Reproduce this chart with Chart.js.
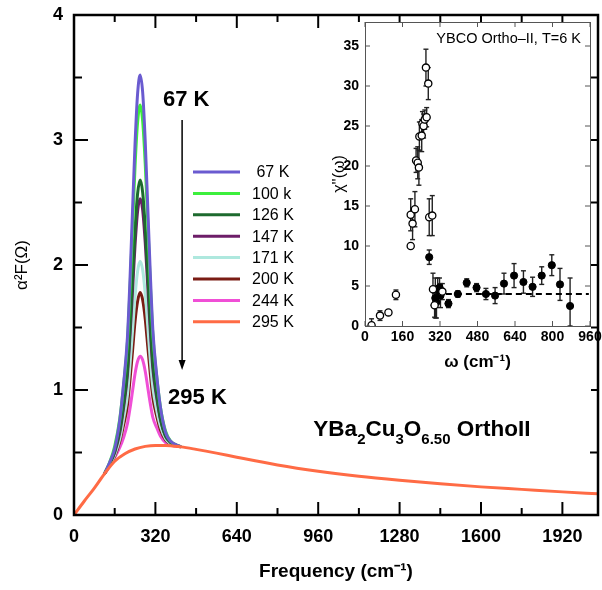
<!DOCTYPE html>
<html><head><meta charset="utf-8">
<script src="https://cdn.jsdelivr.net/npm/chart.js@4.4.1/dist/chart.umd.min.js"></script>
<style>
html,body{margin:0;padding:0;background:#fff;}
#wrap{position:relative;width:602px;height:590px;overflow:hidden;}
#main{position:absolute;left:0;top:0;}
#inset{position:absolute;left:322px;top:0;}
</style></head><body>
<div id="wrap">
<canvas id="main" width="602" height="590"></canvas>
<canvas id="inset" width="280" height="400"></canvas>
</div>
<script>
// ---------- main chart data ----------
const tempLabels = [' 67 K', '100 k', '126 K', '147 K', '171 K', '200 K', '244 K', '295 K'];
const lineColors = ['#6a5bd0', '#3cef3c', '#1d6a2e', '#6d1d68', '#aee8de', '#7a1c14', '#f04fd6', '#ff6b45'];

const peakFreq = [120, 140, 160, 180, 195, 210, 220, 230, 240, 250, 260, 270, 280, 290, 300, 310, 325, 340, 360, 380, 420];
const k67  = [0.33, 0.42, 0.53, 0.76, 1.05, 1.42, 1.88, 2.43, 2.97, 3.37, 3.52, 3.38, 2.99, 2.46, 1.93, 1.48, 1.12, 0.86, 0.66, 0.59, 0.545];
const k100 = [0.33, 0.42, 0.55, 0.77, 1.04, 1.38, 1.80, 2.29, 2.79, 3.14, 3.28, 3.15, 2.81, 2.34, 1.85, 1.44, 1.11, 0.86, 0.67, 0.59, 0.545];
const k126 = [0.33, 0.41, 0.51, 0.68, 0.89, 1.16, 1.49, 1.89, 2.28, 2.57, 2.68, 2.58, 2.30, 1.92, 1.54, 1.22, 0.97, 0.77, 0.63, 0.58, 0.545];
const k147 = [0.33, 0.41, 0.50, 0.66, 0.86, 1.12, 1.43, 1.79, 2.16, 2.43, 2.53, 2.44, 2.18, 1.83, 1.47, 1.17, 0.94, 0.76, 0.63, 0.58, 0.545];
const k171 = [0.33, 0.40, 0.48, 0.61, 0.77, 0.96, 1.20, 1.47, 1.75, 1.95, 2.03, 1.96, 1.77, 1.51, 1.24, 1.02, 0.84, 0.71, 0.61, 0.57, 0.545];
const k200 = [0.33, 0.40, 0.47, 0.59, 0.72, 0.88, 1.08, 1.31, 1.55, 1.71, 1.78, 1.72, 1.57, 1.35, 1.13, 0.94, 0.79, 0.68, 0.60, 0.57, 0.545];
const k244 = [0.33, 0.39, 0.46, 0.54, 0.62, 0.73, 0.85, 0.99, 1.13, 1.23, 1.27, 1.24, 1.15, 1.02, 0.89, 0.78, 0.70, 0.63, 0.58, 0.56, 0.545];

const baseFreq = [0, 40, 80, 120, 160, 200, 240, 280, 320, 360, 420, 480, 560, 640, 800, 960, 1120, 1280, 1440, 1600, 1760, 1920, 2060];
const k295 = [0, 0.11, 0.215, 0.33, 0.43, 0.49, 0.528, 0.549, 0.557, 0.557, 0.545, 0.525, 0.495, 0.462, 0.40, 0.35, 0.31, 0.278, 0.25, 0.225, 0.205, 0.185, 0.17];

const peakSeries = [k67, k100, k126, k147, k171, k200, k244];

// tick values (labels shown on the major ones)
const mainXTicks = [0, 160, 320, 480, 640, 800, 960, 1120, 1280, 1440, 1600, 1760, 1920];
const mainYTicks = [0, 0.5, 1, 1.5, 2, 2.5, 3, 3.5, 4];
const insetXTicks = [0, 160, 320, 480, 640, 800, 960];
const insetYTicks = [0, 5, 10, 15, 20, 25, 30, 35];

// ---------- inset data (YBCO Ortho-II, T=6 K) ----------
const openW   = [28, 64, 100, 132, 195, 195, 203, 213, 218, 225, 230, 232, 242, 245, 250, 255, 263, 260, 270, 274, 287, 290, 297, 330];
const openChi = [0.1, 1.3, 1.7, 3.9, 10.0, 13.9, 12.8, 14.6, 20.7, 20.4, 19.8, 23.7, 23.8, 25.3, 25.0, 25.8, 26.1, 32.3, 30.3, 13.6, 13.8, 4.6, 2.6, 4.3];
const openErr = [0.8, 0.6, 0.3, 0.6, 0, 2.0, 2.0, 2.2, 1.5, 2.0, 2.2, 1.8, 2.0, 1.5, 1.5, 1.2, 1.2, 2.3, 2.0, 2.3, 2.5, 2.0, 1.5, 1.0];
const fullW   = [274, 300, 305, 310, 318, 322, 356, 396, 434, 476, 516, 555, 593, 636, 676, 715, 754, 797, 832, 875];
const fullChi = [8.6, 3.5, 3.0, 4.5, 4.8, 3.8, 2.8, 4.0, 5.4, 4.8, 4.0, 3.8, 5.3, 6.3, 5.5, 4.9, 6.3, 7.6, 5.2, 2.5];
const fullErr = [0.9, 2.5, 2.0, 1.5, 1.2, 1.5, 0.5, 0.4, 0.5, 0.5, 0.7, 1.0, 1.3, 1.5, 1.4, 1.2, 1.1, 1.3, 2.0, 3.5];
const dashW   = [345, 955];
const dashChi = [4.0, 4.0];

// ---------- helpers ----------
const FONT = "'Liberation Sans', Arial, Helvetica, sans-serif";
Chart.defaults.font.family = FONT;
Chart.defaults.color = '#000';
function pts(xs, ys) { return xs.map((x, i) => ({ x: x, y: ys[i] })); }
function seg(ctx, x1, y1, x2, y2) { ctx.beginPath(); ctx.moveTo(x1, y1); ctx.lineTo(x2, y2); ctx.stroke(); }
function setTicks(vals) { return s => { s.ticks = vals.map(v => ({ value: v })); }; }
function noPadX(w) { return s => { s.height = w; s.paddingLeft = 0; s.paddingRight = 0; }; }
function noPadY(w) { return s => { s.width = w; s.paddingTop = 0; s.paddingBottom = 0; }; }

// ---------- main chart ----------
const mainDatasets = peakSeries.map((s, i) => ({
  label: tempLabels[i], data: pts(peakFreq, s), borderColor: lineColors[i],
  borderWidth: 3, pointRadius: 0, fill: false, cubicInterpolationMode: 'monotone', order: 1
}));
mainDatasets.push({
  label: tempLabels[7], data: pts(baseFreq, k295), borderColor: lineColors[7],
  borderWidth: 3, pointRadius: 0, fill: false, cubicInterpolationMode: 'monotone', order: 0
});

const mainDecor = {
  id: 'mainDecor',
  afterDatasetsDraw(chart) {
    const { ctx, chartArea: a, scales: { x, y } } = chart;
    ctx.save();
    ctx.strokeStyle = '#000';
    ctx.lineWidth = 2.5;
    ctx.strokeRect(a.left, a.top, a.right - a.left, a.bottom - a.top);
    ctx.lineWidth = 2;
    x.ticks.forEach(t => {
      const px = x.getPixelForValue(t.value);
      const len = t.value % 320 === 0 ? 13 : 7;
      seg(ctx, px, a.bottom, px, a.bottom - len);
      seg(ctx, px, a.top, px, a.top + len);
    });
    y.ticks.forEach(t => {
      const py = y.getPixelForValue(t.value);
      const len = Number.isInteger(t.value) ? 14 : 8;
      seg(ctx, a.left, py, a.left + len, py);
      seg(ctx, a.right, py, a.right - len, py);
    });

    // legend
    ctx.font = '16px ' + FONT;
    ctx.textBaseline = 'middle';
    ctx.textAlign = 'left';
    chart.data.datasets.forEach((ds, i) => {
      const ly = 172 + i * 21.4;
      ctx.strokeStyle = ds.borderColor;
      ctx.lineWidth = 3;
      seg(ctx, 193, ly, 240, ly);
      ctx.fillStyle = '#000';
      ctx.fillText(ds.label, 252, ly + 1);
    });

    // annotations
    ctx.fillStyle = '#000';
    ctx.font = 'bold 22px ' + FONT;
    ctx.fillText('67 K', x.getPixelForValue(350), y.getPixelForValue(3.32));
    ctx.fillText('295 K', x.getPixelForValue(370), y.getPixelForValue(0.94));
    const ax = x.getPixelForValue(425);
    const ay1 = y.getPixelForValue(3.16), ay2 = y.getPixelForValue(1.16);
    ctx.strokeStyle = '#000'; ctx.lineWidth = 1.5;
    seg(ctx, ax, ay1, ax, ay2 - 8);
    ctx.beginPath();
    ctx.moveTo(ax - 3.5, ay2 - 10); ctx.lineTo(ax + 3.5, ay2 - 10); ctx.lineTo(ax, ay2); ctx.closePath(); ctx.fill();
    let fx = x.getPixelForValue(941);
    const fy = y.getPixelForValue(0.632);
    ctx.textBaseline = 'alphabetic';
    const parts = [['YBa', 0], ['2', 1], ['Cu', 0], ['3', 1], ['O', 0], ['6.50', 1], [' OrthoII', 0]];
    parts.forEach(([s, sub]) => {
      ctx.font = sub ? 'bold 15px ' + FONT : 'bold 22.5px ' + FONT;
      ctx.fillText(s, fx, sub ? fy + 8 : fy);
      fx += ctx.measureText(s).width;
    });
    ctx.restore();
  }
};

new Chart(document.getElementById('main'), {
  type: 'line',
  data: { datasets: mainDatasets },
  options: {
    responsive: false, animation: false,
    layout: { padding: { top: 15, right: 4, left: 0, bottom: 0 } },
    plugins: { legend: { display: false }, tooltip: { enabled: false } },
    scales: {
      x: {
        type: 'linear', min: 0, max: 2060,
        grid: { display: false, drawTicks: false }, border: { display: false },
        ticks: { padding: 11, font: { size: 18, weight: 'bold' }, maxRotation: 0, autoSkip: false,
                 callback: v => (v % 320 === 0 ? String(v) : '') },
        afterBuildTicks: setTicks(mainXTicks),
        title: { display: true, text: 'Frequency (cm⁻¹)', font: { size: 19, weight: 'bold' }, padding: { top: 0, bottom: 7 } },
        afterFit: noPadX(75)
      },
      y: {
        type: 'linear', min: 0, max: 4,
        grid: { display: false, drawTicks: false }, border: { display: false },
        ticks: { padding: 11, font: { size: 18, weight: 'bold' },
                 callback: v => (Number.isInteger(v) ? String(v) : '') },
        afterBuildTicks: setTicks(mainYTicks),
        title: { display: true, text: 'α²F(Ω)', font: { size: 17 }, padding: { top: 12, bottom: 0 } },
        afterFit: noPadY(74)
      }
    }
  },
  plugins: [mainDecor]
});

// ---------- inset chart ----------
const insetDecor = {
  id: 'insetDecor',
  beforeDraw(chart) {
    const ctx = chart.ctx;
    ctx.save(); ctx.fillStyle = '#fff'; ctx.fillRect(0, 22, 269, 378); ctx.restore();
  },
  beforeDatasetsDraw(chart) {
    const { ctx, scales: { x, y } } = chart;
    ctx.save();
    ctx.strokeStyle = '#222'; ctx.lineWidth = 1.4;
    const bars = (ws, cs, es) => ws.forEach((w, i) => {
      if (!es[i]) return;
      const px = x.getPixelForValue(w);
      const y1 = y.getPixelForValue(Math.max(0, cs[i] - es[i])), y2 = y.getPixelForValue(cs[i] + es[i]);
      seg(ctx, px, y1, px, y2);
      seg(ctx, px - 2.5, y1, px + 2.5, y1);
      seg(ctx, px - 2.5, y2, px + 2.5, y2);
    });
    bars(openW, openChi, openErr);
    bars(fullW, fullChi, fullErr);
    ctx.restore();
  },
  afterDatasetsDraw(chart) {
    const { ctx, chartArea: a, scales: { x, y } } = chart;
    ctx.save();
    ctx.strokeStyle = '#555'; ctx.lineWidth = 1;
    ctx.strokeRect(a.left + 0.5, a.top + 0.5, a.right - a.left, a.bottom - a.top);
    x.ticks.forEach(t => {
      const px = x.getPixelForValue(t.value);
      seg(ctx, px, a.bottom, px, a.bottom - 5);
      seg(ctx, px, a.top, px, a.top + 5);
    });
    y.ticks.forEach(t => {
      const py = y.getPixelForValue(t.value);
      seg(ctx, a.left, py, a.left + 5, py);
      seg(ctx, a.right, py, a.right - 5, py);
    });
    ctx.fillStyle = '#000';
    ctx.font = '14.5px ' + FONT;
    ctx.textAlign = 'right'; ctx.textBaseline = 'middle';
    ctx.fillText('YBCO Ortho–II, T=6 K', a.right - 9, 39);
    ctx.restore();
  }
};

new Chart(document.getElementById('inset'), {
  type: 'scatter',
  data: {
    datasets: [
      { label: 'open', data: pts(openW, openChi), pointStyle: 'circle', pointRadius: 3.6, pointBackgroundColor: '#fff', pointBorderColor: '#000', pointBorderWidth: 1.3 },
      { label: 'filled', data: pts(fullW, fullChi), pointStyle: 'circle', pointRadius: 3.6, pointBackgroundColor: '#000', pointBorderColor: '#000', pointBorderWidth: 1 },
      { type: 'line', label: 'fit', data: pts(dashW, dashChi), borderColor: '#000', borderWidth: 2, borderDash: [6, 4], pointRadius: 0, fill: false }
    ]
  },
  options: {
    responsive: false, animation: false,
    layout: { padding: { top: 22, right: 12, left: 0, bottom: 0 } },
    plugins: { legend: { display: false }, tooltip: { enabled: false } },
    scales: {
      x: {
        type: 'linear', min: 0, max: 960,
        grid: { display: false, drawTicks: false }, border: { display: false },
        ticks: { padding: 3, font: { size: 14, weight: 'bold' }, maxRotation: 0, autoSkip: false },
        afterBuildTicks: setTicks(insetXTicks),
        title: { display: true, text: 'ω (cm⁻¹)', font: { size: 17, weight: 'bold' }, padding: { top: 0, bottom: 27 } },
        afterFit: noPadX(74)
      },
      y: {
        type: 'linear', min: 0, max: 38,
        grid: { display: false, drawTicks: false }, border: { display: false },
        ticks: { padding: 6, font: { size: 14, weight: 'bold' } },
        afterBuildTicks: setTicks(insetYTicks),
        title: { display: true, text: "χ''(ω)", font: { size: 16 }, padding: { top: 8, bottom: 0 } },
        afterFit: noPadY(43)
      }
    }
  },
  plugins: [insetDecor]
});
</script>
</body></html>
